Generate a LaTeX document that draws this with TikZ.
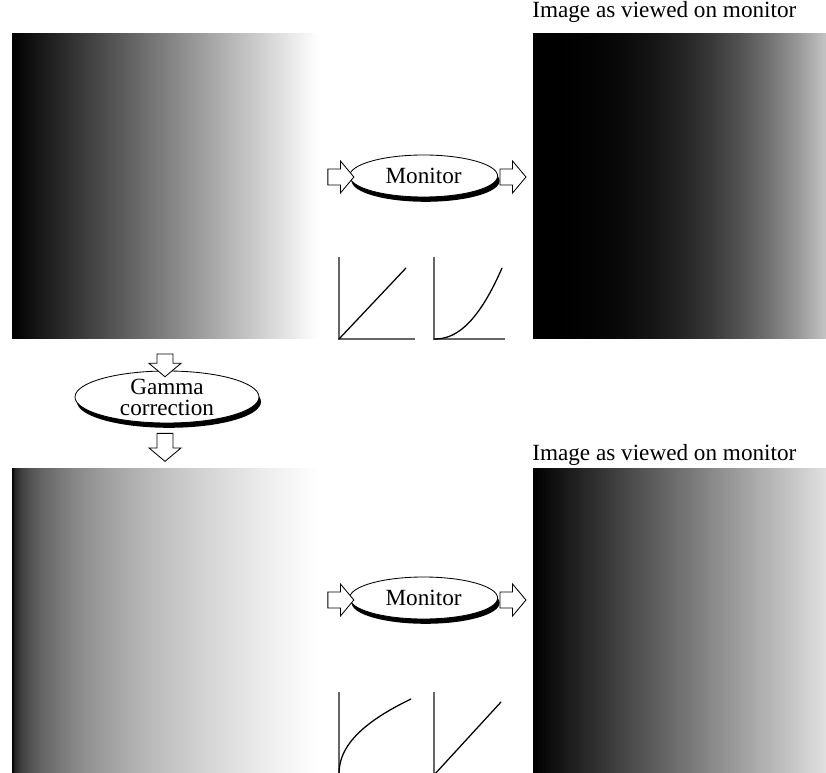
\documentclass[tikz,border=0pt]{standalone}
\usepackage{fontspec}
\setmainfont{Liberation Serif}
\usetikzlibrary{shapes.geometric, shapes.arrows, shadows, positioning}

% grey ramps: stops sit between 25bp and 75bp
\pgfdeclarehorizontalshading{linramp}{100bp}{color(0bp)=(black); color(25bp)=(black); color(75bp)=(white); color(100bp)=(white)}
\pgfdeclarehorizontalshading{gammadark}{100bp}{color(0bp)=(black); color(25bp)=(black);
  color(30bp)=(white!0.2!black); color(35bp)=(white!1.4!black); color(40bp)=(white!3.8!black);
  color(45bp)=(white!7.8!black); color(50bp)=(white!13.6!black); color(55bp)=(white!21.4!black);
  color(60bp)=(white!31.5!black); color(65bp)=(white!44!black); color(70bp)=(white!59!black);
  color(75bp)=(white!77!black); color(100bp)=(white!77!black)}
\pgfdeclarehorizontalshading{gammalift}{100bp}{color(0bp)=(black); color(25bp)=(black);
  color(25.5bp)=(white!15.8!black); color(26.5bp)=(white!24.6!black); color(28bp)=(white!32.4!black);
  color(30bp)=(white!39.8!black); color(35bp)=(white!52.5!black); color(40bp)=(white!61.8!black);
  color(45bp)=(white!69.3!black); color(50bp)=(white!75.8!black); color(55bp)=(white!81.5!black);
  color(60bp)=(white!86.7!black); color(65bp)=(white!91.5!black); color(70bp)=(white!95.9!black);
  color(75bp)=(white); color(100bp)=(white)}
\pgfdeclarehorizontalshading{linview}{100bp}{color(0bp)=(black); color(25bp)=(black); color(75bp)=(white!88!black); color(100bp)=(white!88!black)}

\begin{document}
\begin{tikzpicture}[
    img/.style={inner sep=0, minimum height=7.625cm, shade, shading=#1},
    lens/.style={ellipse, draw, fill=white, line width=0.6pt, inner sep=0, align=center, font=\fontsize{16.5}{15}\selectfont,
      drop shadow={shadow xshift=0.05cm, shadow yshift=-0.12cm, fill=black, opacity=1}},
    blockarr/.style={single arrow, draw, fill=white, line width=0.6pt, inner sep=0.19cm, single arrow head extend=0.2cm,
      single arrow tip angle=100, minimum height=#1},
    caption/.style={anchor=base west, inner sep=0, font=\fontsize{16.5}{15}\selectfont},
    axisline/.style={draw=black!60, line width=1pt},
    curve/.style={line width=0.9pt, line cap=round}]
  \useasboundingbox (0,0) rectangle (20.65,-19.325);
  \clip (0,0) rectangle (20.65,-19.325);

  % images
  \node[img=linramp, minimum width=7.65cm] (srcimg) at (4.125,-4.6625) {};
  \node[img=gammadark, minimum width=7.325cm] (viewA) at (16.9875,-4.6625) {};
  \node[img=gammalift, minimum width=7.65cm] (corrimg) at (4.125,-15.5125) {};
  \node[img=linview, minimum width=7.325cm] (viewB) at (16.9875,-15.5125) {};

  \node[caption] (capA) at (13.3,-0.43) {Image as viewed on monitor};
  \node[caption] (capB) at (13.3,-11.5) {Image as viewed on monitor};

  % monitor, top row
  \node[lens, minimum width=3.7cm, minimum height=1.05cm] (monA) at (10.59,-4.4) {Monitor};
  \node[blockarr=0.65cm] (inA) at (8.4375,-4.425) {};
  \node[blockarr=0.65cm] (outA) at (12.74,-4.425) {};

  % monitor, bottom row
  \node[lens, minimum width=3.7cm, minimum height=1.05cm] (monB) at (10.59,-14.95) {Monitor};
  \node[blockarr=0.65cm] (inB) at (8.4375,-15) {};
  \node[blockarr=0.65cm] (outB) at (12.74,-15) {};

  % gamma correction
  \node[lens, minimum width=4.6cm, minimum height=1.3cm] (gamma) at (4.175,-9.925) {Gamma\\correction};
  \node[blockarr=0.55cm, rotate=-90] (inG) at (4.125,-9.05) {};
  \node[blockarr=0.7cm, rotate=-90] (outG) at (4.125,-11.1) {};

  % transfer curves
  \begin{scope}[shift={(8.475,-8.475)}]
    \draw[axisline] (0,2.05) -- (0,0) -- (1.9,0);
    \draw[curve] (0,0) -- (1.675,1.775);
  \end{scope}
  \begin{scope}[shift={(10.85,-8.475)}]
    \draw[axisline] (0,2.05) -- (0,0) -- (1.775,0);
    \draw[curve] (0,0) -- plot[domain=0.02:1, samples=40] ({1.7*\x},{1.775*\x^2.2});
  \end{scope}
  \begin{scope}[shift={(8.475,-19.375)}]
    \draw[axisline] (0,0) -- (0,2.075);
    \draw[curve] (0,0) -- plot[domain=0.02:1, samples=50] ({1.8*\x^2.2},{1.9*\x});
  \end{scope}
  \begin{scope}[shift={(10.85,-19.375)}]
    \draw[axisline] (0,0) -- (0,2.075);
    \draw[curve] (0,0) -- (1.675,1.825);
  \end{scope}
\end{tikzpicture}
\end{document}
